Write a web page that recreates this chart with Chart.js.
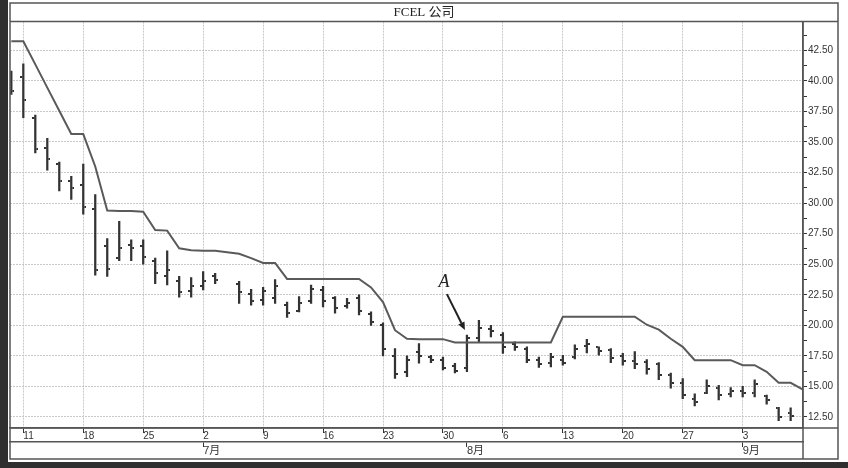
<!DOCTYPE html>
<html>
<head>
<meta charset="utf-8">
<script src="https://cdn.jsdelivr.net/npm/chart.js@4.4.1/dist/chart.umd.min.js"></script>
<style>
  html, body { margin: 0; padding: 0; background: #fff; }
  canvas { display: block; }
</style>
</head>
<body>
<canvas id="myChart" width="848" height="468"></canvas>
<script>
// one slot per weekday, index 0 = 6/8 ; null = no trading bar
const highs = [40.8, 41.4, 37.2, 35.3, 33.35, 32.2, 33.2, 30.7, 27.1, 28.5,
    27.0, 27.0, 25.5, 26.1, 24.0, 23.9, 24.4, 24.25, null, 23.6,
    22.95, 23.1, 23.75, 21.9, 22.35, 23.3, 23.2, 22.35, 22.2, 22.5,
    21.1, 20.2, 18.1, 17.5, 18.5, 17.55, 17.4, 16.9, 19.2, 20.4,
    20.0, 19.4, 18.65, 18.25, 17.4, 17.7, 17.55, 18.4, 18.85, 18.25,
    18.1, 17.7, 17.85, 17.2, 16.95, 16.1, 15.65, 14.4, 15.55, 15.1,
    14.9, 15.0, 15.55, 14.3, 13.3, 13.25];
const lows = [38.9, 37.0, 34.1, 32.7, 31.0, 30.3, 29.1, 24.1, 24.0, 25.3,
    25.3, 25.0, 23.4, 23.3, 22.3, 22.3, 22.9, 23.4, null, 21.8,
    21.65, 21.65, 21.8, 20.65, 21.1, 21.8, 21.5, 21.0, 21.4, 20.85,
    20.0, 17.5, 15.65, 15.8, 16.9, 16.95, 16.35, 16.1, 16.2, 18.65,
    19.05, 17.7, 17.95, 16.95, 16.55, 16.6, 16.75, 17.25, 17.75, 17.55,
    16.95, 16.75, 16.45, 16.0, 15.55, 14.85, 14.0, 13.4, 14.4, 13.9,
    14.15, 14.15, 14.15, 13.55, 12.2, 12.2];
const opens = [40.0, 40.3, 37.0, 34.5, 33.2, 31.8, 31.5, 29.5, 26.5, 25.5,
    26.6, 26.5, 25.3, 24.0, 23.6, 22.8, 23.2, 24.0, null, 23.4,
    22.6, 22.1, 22.2, 21.7, 21.2, 22.0, 22.9, 22.2, 21.6, 22.2,
    20.9, 20.0, 17.5, 16.2, 17.8, 17.4, 17.2, 16.7, 16.5, 19.0,
    19.7, 19.2, 18.5, 18.1, 17.2, 16.9, 17.2, 17.4, 18.3, 18.2,
    18.0, 17.5, 17.1, 17.0, 16.8, 15.9, 15.3, 14.0, 14.5, 14.9,
    14.4, 14.6, 14.5, 14.2, 13.2, 12.8];
const closes = [39.2, 38.4, 34.4, 33.6, 31.8, 31.2, 29.7, 24.5, 24.6, 26.3,
    26.3, 25.6, 24.3, 24.5, 22.7, 23.2, 23.6, 23.7, null, 22.7,
    22.0, 22.8, 23.2, 21.0, 21.8, 23.0, 22.0, 21.4, 21.8, 21.2,
    20.3, 18.1, 16.0, 17.2, 17.5, 17.2, 16.5, 16.3, 19.0, 19.8,
    19.5, 18.2, 18.2, 17.2, 16.8, 17.4, 16.9, 18.1, 18.5, 17.9,
    17.3, 17.1, 16.8, 16.4, 15.9, 15.3, 14.3, 13.7, 15.0, 14.3,
    14.6, 14.5, 15.2, 13.9, 12.5, 12.6];
// trailing stop, one more slot than the bars
const stopLine = [43.24, 43.24, 41.35, 39.45, 37.55, 35.65, 35.65, 33.0, 29.4, 29.35,
    29.35, 29.3, 27.8, 27.75, 26.3, 26.15, 26.1, 26.1, null, 25.85,
    25.5, 25.1, 25.1, 23.8, 23.8, 23.8, 23.8, 23.8, 23.8, 23.8,
    23.1, 21.9, 19.6, 18.9, 18.87, 18.87, 18.87, 18.6, 18.6, 18.6,
    18.6, 18.6, 18.6, 18.6, 18.6, 18.6, 20.7, 20.7, 20.7, 20.7,
    20.7, 20.7, 20.7, 20.05, 19.65, 18.9, 18.24, 17.15, 17.15, 17.15,
    17.15, 16.74, 16.74, 16.2, 15.3, 15.3, 14.75];

const weekTicks = [1, 6, 11, 16, 21, 26, 31, 36, 41, 46, 51, 56, 61];
const weekLabels = ['11', '18', '25', '2', '9', '16', '23', '30', '6', '13', '20', '27', '3'];
const monthTicks = [16, 38, 61];
const monthLabels = ['7月', '8月', '9月'];
const yTicks = [12.5, 15, 17.5, 20, 22.5, 25, 27.5, 30, 32.5, 35, 37.5, 40, 42.5];
const yMinorTicks = [13.75, 16.25, 18.75, 21.25, 23.75, 26.25, 28.75, 31.25, 33.75, 36.25, 38.75, 41.25, 43.75];
const markedDay = 38; // bar marked "A"

const barData = [], openData = [], closeData = [];
highs.forEach((h, i) => {
    if (h === null) return;
    barData.push({x: i, y: [lows[i], h]});
    openData.push({x: i, y: opens[i]});
    closeData.push({x: i, y: closes[i]});
});
const stopData = stopLine.map((v, i) => ({x: i, y: v}));

// little open / close ticks as point images
function makeTick(side) {
    const c = document.createElement('canvas');
    c.width = 6; c.height = 2;
    const g = c.getContext('2d');
    g.fillStyle = '#333';
    g.fillRect(side === 'left' ? 0 : 4, 0, 2, 2);
    return c;
}

const gridGray = '#c9c9c9';
const axisFont = {family: '"Liberation Sans", Arial, sans-serif', size: 10};
const lineGray = '#555';

const framePlugin = {
    id: 'frame',
    beforeDraw(chart) {
        const g = chart.ctx;
        g.save();
        g.fillStyle = '#fff';
        g.fillRect(0, 0, chart.width, chart.height);
        g.fillStyle = '#2f2f2f';
        g.fillRect(0, 0, 8, chart.height);
        g.fillRect(0, 462, chart.width, chart.height - 462);
        g.restore();
    },
    afterDraw(chart) {
        const a = chart.chartArea, x2 = chart.scales.x2, y = chart.scales.y;
        const g = chart.ctx;
        g.save();
        g.strokeStyle = lineGray;
        g.lineWidth = 1.5;
        g.strokeRect(a.left, 3, y.right - a.left, x2.bottom - 3);
        g.beginPath();
        g.moveTo(a.left, a.top); g.lineTo(y.right, a.top);
        g.moveTo(a.right, a.top); g.lineTo(a.right, x2.bottom);
        g.moveTo(a.left, a.bottom); g.lineTo(y.right, a.bottom);
        g.stroke();
        g.restore();
    }
};

const markPlugin = {
    id: 'markA',
    afterDatasetsDraw(chart) {
        const px = chart.scales.x.getPixelForValue(markedDay);
        const py = chart.scales.y.getPixelForValue(highs[markedDay]);
        const g = chart.ctx;
        g.save();
        g.fillStyle = '#222';
        g.strokeStyle = '#222';
        g.font = 'italic 18px "Liberation Serif", serif';
        g.textAlign = 'center';
        g.textBaseline = 'middle';
        g.fillText('A', px - 23, py - 53);
        const x0 = px - 20, y0 = py - 41, x1 = px - 2, y1 = py - 5;
        const ang = Math.atan2(y1 - y0, x1 - x0);
        const L = 8, W = 3.5;
        g.lineWidth = 2;
        g.beginPath();
        g.moveTo(x0, y0);
        g.lineTo(x1 - L * Math.cos(ang), y1 - L * Math.sin(ang));
        g.stroke();
        g.beginPath();
        g.moveTo(x1, y1);
        g.lineTo(x1 - L * Math.cos(ang) + W * Math.sin(ang), y1 - L * Math.sin(ang) - W * Math.cos(ang));
        g.lineTo(x1 - L * Math.cos(ang) - W * Math.sin(ang), y1 - L * Math.sin(ang) + W * Math.cos(ang));
        g.closePath();
        g.fill();
        g.restore();
    }
};

var ctx = document.getElementById('myChart').getContext('2d');
var chart = new Chart(ctx, {
    type: 'line',
    data: {
        datasets: [{
            type: 'line',
            data: stopData,
            borderColor: '#5a5a5a',
            borderWidth: 2,
            pointRadius: 0,
            tension: 0,
            spanGaps: true
        }, {
            type: 'line',
            data: openData,
            showLine: false,
            pointStyle: makeTick('left'),
            pointRadius: 3
        }, {
            type: 'line',
            data: closeData,
            showLine: false,
            pointStyle: makeTick('right'),
            pointRadius: 3
        }, {
            type: 'bar',
            data: barData,
            backgroundColor: '#333',
            borderWidth: 0,
            barThickness: 1.6
        }]
    },
    options: {
        responsive: false,
        animation: false,
        layout: { padding: { left: 10, right: 10, top: 0, bottom: 9 } },
        plugins: {
            legend: { display: false },
            tooltip: { enabled: false },
            title: {
                display: true,
                text: 'FCEL 公司',
                color: '#222',
                font: { family: '"Liberation Serif", "Noto Sans CJK SC", serif', size: 13, weight: 'normal' },
                padding: { top: 5, bottom: 1 }
            }
        },
        scales: {
            x: {
                type: 'linear',
                position: 'bottom',
                min: -0.11,
                max: 66.03,
                bounds: 'data',
                offset: false,
                afterBuildTicks: s => { s.ticks = weekTicks.map(v => ({value: v})); },
                afterFit: s => { s.height = 14; },
                ticks: {
                    callback: (v, i) => weekLabels[i],
                    align: 'start',
                    padding: -3,
                    maxRotation: 0,
                    autoSkip: false,
                    color: '#333',
                    font: axisFont
                },
                grid: { offset: false, color: gridGray, tickLength: 5, tickColor: '#333' },
                border: { color: lineGray, width: 1.5, dash: [2, 1] }
            },
            x2: {
                type: 'linear',
                position: 'bottom',
                min: -0.11,
                max: 66.03,
                bounds: 'data',
                offset: false,
                afterBuildTicks: s => { s.ticks = monthTicks.map(v => ({value: v})); },
                afterFit: s => { s.height = 17; },
                ticks: {
                    callback: (v, i) => monthLabels[i],
                    align: 'start',
                    padding: -3,
                    maxRotation: 0,
                    autoSkip: false,
                    color: '#333',
                    font: { family: '"Liberation Sans", "Noto Sans CJK SC", sans-serif', size: 11 }
                },
                grid: { offset: false, drawOnChartArea: false, tickLength: 5, tickColor: '#333' },
                border: { color: lineGray, width: 1.5 }
            },
            y: {
                type: 'linear',
                position: 'right',
                min: 11.6,
                max: 44.85,
                bounds: 'data',
                beginAtZero: false,
                afterBuildTicks: s => {
                    s.ticks = yTicks.concat(yMinorTicks).sort((a, b) => a - b).map(v => ({value: v}));
                },
                afterFit: s => { s.width = 35; },
                ticks: {
                    callback: v => yTicks.includes(v) ? v.toFixed(2) : '',
                    padding: 1,
                    autoSkip: false,
                    color: '#333',
                    font: axisFont
                },
                grid: {
                    color: c => (c.tick && yTicks.includes(c.tick.value)) ? gridGray : 'rgba(0,0,0,0)',
                    tickLength: 4,
                    tickColor: '#333'
                },
                border: { color: lineGray, width: 1.5, dash: [2, 1] }
            }
        }
    },
    plugins: [framePlugin, markPlugin]
});
</script>
</body>
</html>
